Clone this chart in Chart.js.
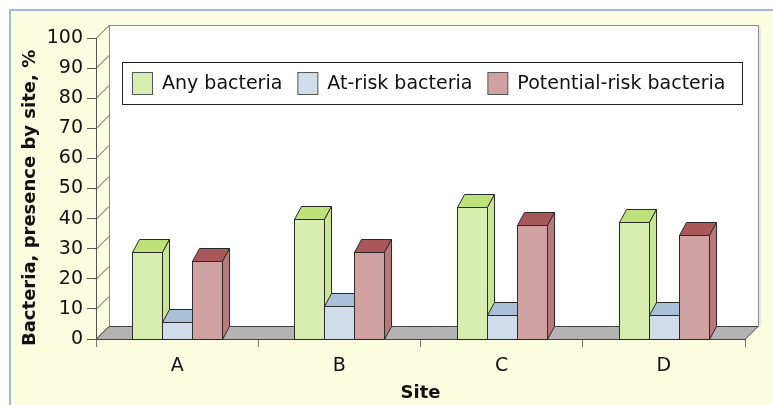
<!DOCTYPE html>
<html>
<head>
<meta charset="utf-8">
<script src="https://cdn.jsdelivr.net/npm/chart.js@4/dist/chart.umd.min.js"></script>
<style>
  html, body { margin: 0; padding: 0; background: #fff; }
  canvas { display: block; }
</style>
</head>
<body>
<canvas id="grafico" width="773" height="405"></canvas>
<script>
(() => {
  'use strict'

  const sites = ['A', 'B', 'C', 'D']
  const anyBacteria = [29, 40, 44, 39]
  const atRiskBacteria = [5.5, 11, 8, 8]
  const potentialRiskBacteria = [26, 29, 38, 34.5]
  const seriesNames = ['Any bacteria', 'At-risk bacteria', 'Potential-risk bacteria']

  const fonte = 'DejaVu Sans'
  // frente, topo, lado
  const cores = [
    ['#daedb1', '#bde27a', '#c9e793'],
    ['#d0dcea', '#a9c0d8', '#b9cbe0'],
    ['#d0a1a1', '#a85858', '#ba7978']
  ]

  const PROF = 13      // profundidade da parede/piso
  const BDX = 7        // deslocamento das barras
  const BDY = 13

  const cenario3d = {
    id: 'cenario3d',
    beforeDraw(chart) {
      const c = chart.ctx
      const { left, right, top, bottom } = chart.chartArea
      c.save()
      c.fillStyle = '#fff'
      c.fillRect(0, 0, chart.width, chart.height)
      c.fillStyle = '#fafde0'
      c.fillRect(10, 10, chart.width - 10, chart.height - 10)
      c.strokeStyle = '#a3b8d6'
      c.lineWidth = 2
      c.beginPath()
      c.moveTo(10, chart.height)
      c.lineTo(10, 10)
      c.lineTo(chart.width, 10)
      c.stroke()

      // parede do fundo
      c.fillStyle = '#fff'
      c.fillRect(left + PROF, top - PROF, right - left, bottom - top)
      c.lineWidth = 1
      c.strokeStyle = '#8c8c8c'
      c.strokeRect(left + PROF + 0.5, top - PROF + 0.5, right - left, bottom - top)
      c.strokeStyle = '#d8d8d8'
      c.beginPath()
      c.moveTo(right + PROF + 2, top - PROF + 2)
      c.lineTo(right + PROF + 2, bottom - PROF)
      c.stroke()

      // diagonais das marcas do eixo y
      const y = chart.scales.y
      c.strokeStyle = '#555'
      y.ticks.forEach(t => {
        const py = Math.round(y.getPixelForValue(t.value)) + 0.5
        c.beginPath()
        c.moveTo(left, py)
        c.lineTo(left + PROF, py - PROF)
        c.stroke()
      })

      // piso
      c.fillStyle = '#b3b3b3'
      c.strokeStyle = '#444'
      c.beginPath()
      c.moveTo(left, bottom + 0.5)
      c.lineTo(right, bottom + 0.5)
      c.lineTo(right + PROF, bottom - PROF + 0.5)
      c.lineTo(left + PROF, bottom - PROF + 0.5)
      c.closePath()
      c.fill()
      c.stroke()
      c.restore()
    },
    beforeDatasetsDraw(chart) {
      const c = chart.ctx
      c.save()
      c.lineWidth = 1
      c.strokeStyle = '#2a2a2a'
      c.lineJoin = 'miter'
      sites.forEach((s, j) => {
        chart.data.datasets.forEach((ds, i) => {
          const el = chart.getDatasetMeta(i).data[j]
          const { x, y, base, width } = el.getProps(['x', 'y', 'base', 'width'], true)
          const l = Math.round(x - width / 2) + 0.5
          const r = Math.round(x + width / 2) + 0.5
          const t = Math.round(y) + 0.5
          const b = Math.round(base) + 0.5
          const [frente, topo, lado] = cores[i]

          c.fillStyle = frente
          c.fillRect(l, t, r - l, b - t)
          c.strokeRect(l, t, r - l, b - t)

          c.fillStyle = topo
          c.beginPath()
          c.moveTo(l, t)
          c.lineTo(r, t)
          c.lineTo(r + BDX, t - BDY)
          c.lineTo(l + BDX, t - BDY)
          c.closePath()
          c.fill()
          c.stroke()

          c.fillStyle = lado
          c.beginPath()
          c.moveTo(r, t)
          c.lineTo(r + BDX, t - BDY)
          c.lineTo(r + BDX, b - BDY)
          c.lineTo(r, b)
          c.closePath()
          c.fill()
          c.stroke()
        })
      })
      c.restore()
      return false
    },
    afterDraw(chart) {
      const c = chart.ctx
      c.save()
      const bx = 122, by = 62, bw = 620, bh = 42
      c.fillStyle = '#fff'
      c.fillRect(bx, by, bw, bh)
      c.strokeStyle = '#222'
      c.lineWidth = 1
      c.strokeRect(bx + 0.5, by + 0.5, bw, bh)
      c.font = '19px "' + fonte + '"'
      c.textBaseline = 'middle'
      c.fillStyle = '#111'
      let px = 132
      chart.data.datasets.forEach((ds, i) => {
        c.fillStyle = cores[i][0]
        c.fillRect(px + 0.5, by + 10.5, 20, 22)
        c.strokeStyle = '#555'
        c.strokeRect(px + 0.5, by + 10.5, 20, 22)
        c.fillStyle = '#111'
        c.fillText(ds.label, px + 30, by + 22)
        px += 30 + c.measureText(ds.label).width + 15
      })
      c.restore()
    }
  }

  new Chart(document.getElementById('grafico'), {
    type: 'bar',
    data: {
      labels: sites,
      datasets: [
        { label: seriesNames[0], data: anyBacteria, backgroundColor: cores[0][0] },
        { label: seriesNames[1], data: atRiskBacteria, backgroundColor: cores[1][0] },
        { label: seriesNames[2], data: potentialRiskBacteria, backgroundColor: cores[2][0] }
      ]
    },
    options: {
      responsive: false,
      animation: false,
      devicePixelRatio: 1,
      layout: { padding: { top: 38, right: 28, left: 0, bottom: 0 } },
      datasets: { bar: { barPercentage: 1, categoryPercentage: 0.556 } },
      plugins: {
        legend: { display: false },
        tooltip: { enabled: false }
      },
      scales: {
        x: {
          offset: true,
          grid: { offset: true, drawOnChartArea: false, tickLength: 8, color: '#777' },
          border: { display: true, color: '#444' },
          ticks: { color: '#111', padding: 8, font: { family: fonte, size: 19 } },
          title: {
            display: true, text: 'Site', color: '#111',
            font: { family: fonte, size: 18, weight: 'bold' },
            padding: { top: 0, bottom: 1 }
          },
          afterFit: s => { s.height = 66 }
        },
        y: {
          min: 0,
          max: 100,
          ticks: { stepSize: 10, color: '#111', padding: 4, font: { family: fonte, size: 19 } },
          grid: { drawOnChartArea: false, tickLength: 9, color: '#555' },
          border: { display: true, color: '#555' },
          title: {
            display: true, text: 'Bacteria, presence by site, %   ', color: '#111',
            font: { family: fonte, size: 18, weight: 'bold' },
            padding: { top: 20, bottom: 0 }
          },
          afterFit: s => { s.width = 96 }
        }
      }
    },
    plugins: [cenario3d]
  })
})()
</script>
</body>
</html>
